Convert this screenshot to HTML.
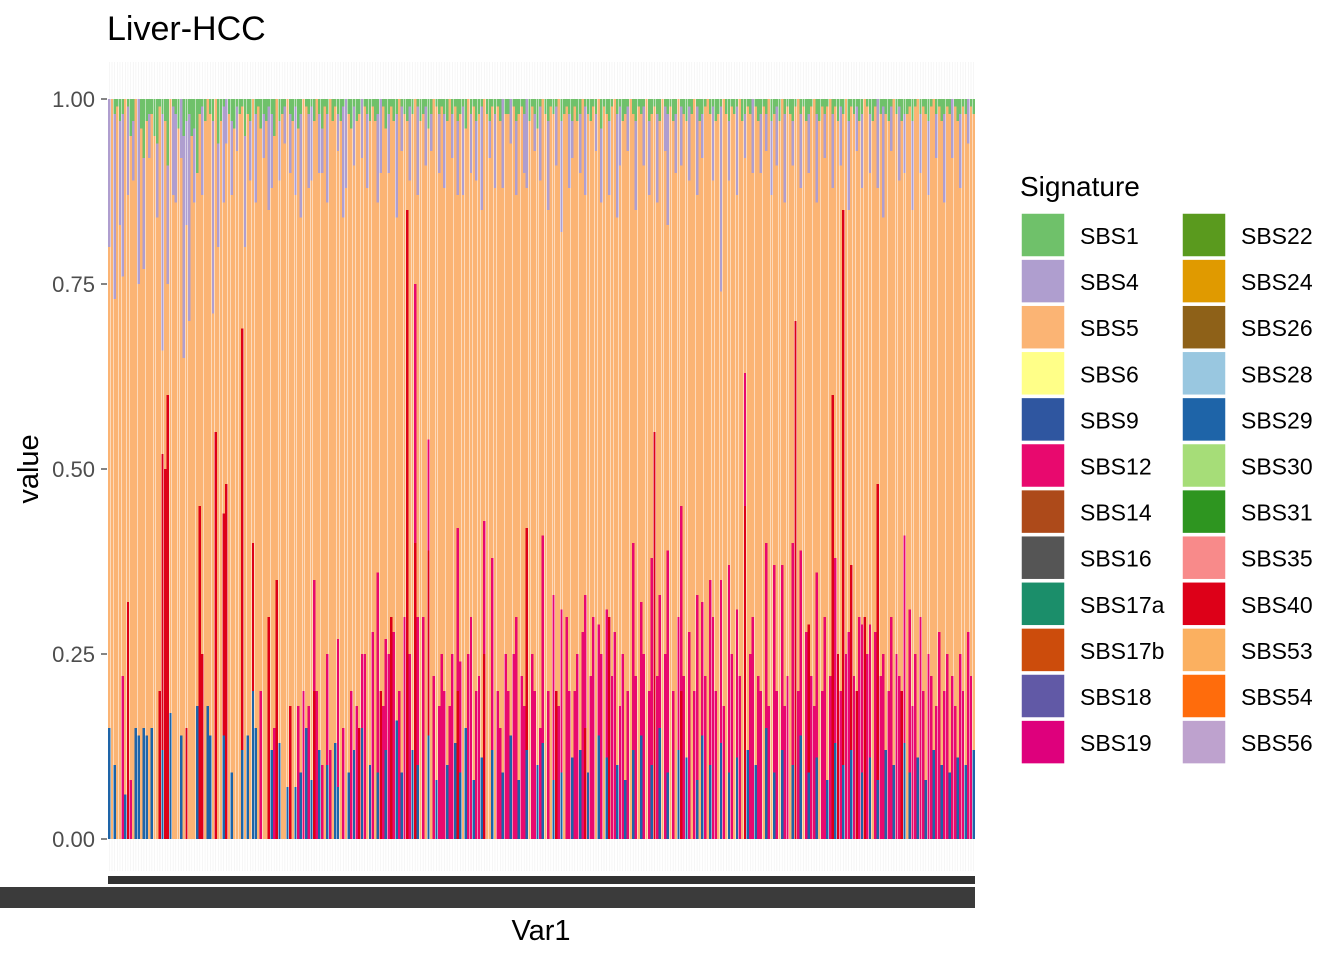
<!DOCTYPE html>
<html><head><meta charset="utf-8">
<style>
html,body{margin:0;padding:0;background:#fff;}
svg{display:block;font-family:"Liberation Sans",Arial,sans-serif;}
</style></head>
<body>
<svg id="chart" width="1344" height="960" viewBox="0 0 1344 960" xmlns="http://www.w3.org/2000/svg">
  <rect width="1344" height="960" fill="#fff"/>
  <text x="107" y="40" font-size="34" fill="#000">Liver-HCC</text>
  <g id="grid"></g>
  <g id="bars" shape-rendering="crispEdges"></g>
  <g id="yaxis"></g>
  <rect x="108" y="876" width="867" height="8" fill="#333"/>
  <rect x="0" y="887" width="975" height="21" fill="#3b3b3b"/>
  <text x="541" y="940" font-size="29" text-anchor="middle" fill="#000">Var1</text>
  <text transform="translate(38,469) rotate(-90)" font-size="29" text-anchor="middle" fill="#000">value</text>
  <g id="legend">
    <text x="1020" y="196" font-size="28" fill="#000">Signature</text>
  </g>
</svg>
<script>
const sbs29 = [
15,0,10,0,0,0,6,0,0,0,15,14,0,15,14,0,15,0,0,0,12,0,0,17,0,
0,0,14,0,0,0,0,0,18,0,0,0,18,14,0,0,0,0,14,0,0,9,0,0,0,
12,0,14,0,20,15,0,0,0,0,0,12,0,0,13,0,0,7,0,0,7,0,9,0,15,
0,8,0,0,12,0,0,10,0,0,13,7,0,0,0,9,0,12,0,0,15,0,0,10,0,
0,9,0,0,12,0,0,0,16,0,9,0,0,0,12,0,10,0,0,0,14,0,0,8,0,
0,0,10,0,0,13,0,9,0,15,0,0,8,0,0,11,0,0,0,12,0,0,0,9,0,
0,14,0,0,8,0,0,12,0,0,0,10,0,13,0,0,0,8,0,0,9,0,0,0,11,
0,0,12,0,0,9,0,0,0,14,0,0,11,0,0,0,10,0,0,8,0,0,12,0,0,
14,0,0,0,10,0,0,15,0,0,9,0,0,0,12,0,0,11,0,0,0,8,0,14,0,
0,10,0,0,0,13,0,0,9,0,0,11,0,0,0,12,0,0,10,0,0,0,15,0,0,
9,0,0,12,0,0,0,10,0,0,14,0,0,9,0,0,11,0,0,0,8,0,0,13,0,
0,10,0,0,12,0,0,0,9,0,0,11,0,0,8,0,0,12,0,0,10,0,0,0,13,
0,9,0,0,11,0,0,8,0,0,12,0,0,10,0,0,9,0,0,11,0,0,10,0,0,12];
const sbs40 = [
0,0,0,0,0,0,0,32,0,0,0,0,0,0,0,0,0,0,0,20,40,50,60,0,0,
0,0,0,0,15,0,0,0,0,45,25,0,0,0,0,55,0,0,30,48,0,0,0,0,0,
57,0,0,0,20,0,0,0,0,0,30,0,0,35,0,0,0,0,18,0,0,0,0,0,0,
0,0,20,0,0,0,0,0,0,0,0,0,0,0,0,0,0,0,0,15,0,0,0,0,0,
0,0,20,0,0,0,30,0,0,0,0,0,85,0,0,40,0,0,0,0,25,0,0,0,0,
0,0,0,0,0,0,20,0,0,0,0,0,0,0,0,0,25,0,0,0,0,0,0,0,0,
0,0,0,0,0,0,0,30,0,0,0,0,0,0,0,0,0,0,20,0,0,0,0,0,0,
0,0,0,0,15,0,0,0,0,0,0,0,0,30,0,0,0,0,0,0,0,0,0,0,0,
0,0,0,0,0,55,0,0,0,0,0,0,0,0,0,20,0,0,0,0,0,0,0,0,0,
0,0,0,0,0,0,0,0,0,0,0,0,0,0,45,0,0,0,0,0,0,0,0,0,0,
0,0,0,0,0,0,0,0,70,0,0,0,0,20,0,0,0,0,0,0,0,0,60,0,25,
0,75,0,0,25,0,20,0,0,30,0,0,0,0,40,0,0,0,0,0,0,0,0,20,0,
0,0,0,0,0,0,0,0,0,0,0,0,0,0,0,0,0,0,0,0,0,0,0,0,0,0];
const sbs12 = [
0,0,0,0,0,22,0,0,8,0,0,0,0,0,0,0,0,0,0,0,0,0,0,0,0,
0,0,0,0,0,0,0,0,0,0,0,0,0,0,0,0,0,0,0,0,0,0,0,0,0,
0,0,0,0,0,0,0,20,0,0,0,0,15,0,0,0,0,0,0,0,0,18,0,20,0,
18,0,15,20,0,10,0,15,12,0,0,20,0,15,0,0,20,0,18,0,10,25,0,0,28,
0,27,0,18,15,25,0,28,0,20,0,30,0,25,0,35,20,0,30,0,15,0,22,0,18,
25,20,0,18,25,0,22,15,0,0,25,30,0,20,22,0,18,0,0,26,0,20,15,0,25,
20,0,25,30,0,22,18,0,0,25,20,0,15,28,0,20,0,25,0,18,22,0,30,20,0,
20,25,0,28,18,0,22,30,0,15,25,0,20,0,22,28,0,18,25,0,20,0,28,22,0,
18,25,0,20,28,0,22,18,0,25,30,0,20,0,18,25,22,0,28,0,20,25,0,18,22,
0,25,30,20,0,22,18,0,28,25,0,20,22,0,18,0,25,30,0,22,20,0,25,18,0,
28,20,0,25,18,22,0,30,0,20,25,0,28,0,22,18,25,0,20,30,0,22,0,25,0,
20,0,25,28,0,22,0,30,20,0,25,18,0,28,0,22,25,0,20,30,0,25,22,0,28,
0,22,18,25,0,30,20,0,25,22,0,18,28,0,20,25,0,22,18,0,25,20,0,28,22,0];
const sbs4 = [
20,0,25,0,14,22,0,12,0,8,0,25,0,15,0,6,0,0,10,0,32,0,16,0,12,
12,0,8,30,14,28,0,10,0,0,12,0,0,0,26,0,14,0,13,6,0,10,0,6,0,
0,15,0,8,0,12,0,0,6,0,14,10,0,0,8,0,5,0,8,0,12,0,14,0,0,
10,10,0,0,8,6,0,12,0,0,0,5,0,15,12,0,0,8,0,0,8,0,10,0,0,
0,12,10,0,0,8,0,0,14,0,6,0,0,10,0,0,12,0,0,8,0,5,0,0,8,
0,10,0,0,6,0,10,0,12,0,0,8,0,8,0,14,0,0,5,0,10,0,0,12,0,
0,6,0,10,0,0,8,12,0,0,5,0,10,0,0,12,0,0,8,0,15,0,0,10,5,
0,0,8,0,12,0,0,0,5,0,10,0,0,10,0,0,14,8,0,0,6,0,0,12,0,
0,8,0,10,0,0,12,0,0,6,15,0,0,8,0,8,0,0,10,0,0,12,0,6,0,
0,0,10,0,0,25,0,0,8,0,0,12,0,0,6,0,0,10,0,0,8,0,5,0,10,
0,8,0,0,12,0,0,6,0,0,10,0,0,8,0,0,12,0,0,6,0,0,10,0,0,
8,0,0,12,0,0,6,0,10,0,0,8,0,0,12,0,15,0,0,6,0,0,10,0,8,
0,0,12,0,0,8,0,0,10,0,0,6,0,0,12,0,0,8,0,0,10,0,0,6,0,0];
const sbs1 = [
0,0,2,1,3,2,0,1,5,3,0,0,4,8,3,2,2,5,6,1,2,3,9,0,1,
2,4,0,5,3,2,5,4,10,2,1,3,0,2,3,0,6,3,1,0,2,3,4,1,2,
1,5,2,3,0,2,1,4,2,3,1,2,5,0,3,2,1,0,2,3,1,4,2,0,1,
2,1,3,0,2,4,1,2,0,3,1,2,3,1,0,2,4,1,3,2,0,1,2,3,1,
3,2,0,1,4,2,1,3,2,0,1,2,3,1,2,0,1,3,2,1,4,2,0,1,2,
1,2,3,0,2,1,3,2,1,4,0,2,1,3,2,1,0,2,3,1,2,1,3,0,2,
2,0,1,3,2,1,2,0,3,1,2,4,1,0,2,3,1,2,1,0,3,2,1,2,3,
1,3,2,0,1,2,3,1,2,0,4,1,2,3,1,0,2,1,3,2,1,0,2,3,1,
2,1,0,3,2,1,2,3,0,1,2,1,3,2,0,1,2,3,1,2,0,1,3,2,1,
0,2,1,3,2,1,0,2,3,1,2,1,0,3,2,1,2,0,1,3,2,1,2,0,3,
2,1,3,0,2,1,2,3,1,0,2,1,3,2,1,0,2,3,1,2,1,0,2,1,3,
1,2,0,3,1,2,1,3,2,0,1,2,3,1,0,2,1,2,3,1,0,2,1,3,2,
2,1,3,1,0,2,1,2,3,1,0,2,1,3,2,1,2,0,1,3,2,1,2,0,1,2];
const yTicks = [0, 0.25, 0.5, 0.75, 1];
const yTickLabels = ["0.00","0.25","0.50","0.75","1.00"];
const legendNames = ["SBS1","SBS4","SBS5","SBS6","SBS9","SBS12","SBS14","SBS16","SBS17a","SBS17b","SBS18","SBS19",
  "SBS22","SBS24","SBS26","SBS28","SBS29","SBS30","SBS31","SBS35","SBS40","SBS53","SBS54","SBS56"];
const legendColors = ["#6FC16A","#AF9ECF","#FBB474","#FFFF88","#2F56A0","#E8096E","#AD4A1A","#555555","#1B8E6A","#CC4C0C","#6159A6","#DE007C",
  "#5A9A1E","#E09A00","#8E6118","#99C7E0","#1E64A8","#A6DD78","#2E9520","#F88A8A","#DD0018","#FBB060","#FF6C0C","#BEA2CE"];

const NS = "http://www.w3.org/2000/svg";
const N = sbs29.length;
const X0 = 108, X1 = 975, Y0 = 839, Y1 = 99;
const band = (X1 - X0) / N;
const xScale = i => X0 + i * band;
const yScale = v => Y0 - v * (Y0 - Y1);
const colorOf = name => legendColors[legendNames.indexOf(name)];

const grid = document.getElementById('grid');
for (let i = 0; i < N; i++) {
  const l = document.createElementNS(NS, 'line');
  const cx = xScale(i) + band / 2;
  l.setAttribute('x1', cx); l.setAttribute('x2', cx);
  l.setAttribute('y1', 62); l.setAttribute('y2', 871);
  l.setAttribute('stroke', '#f0f0f0'); l.setAttribute('stroke-width', '0.6');
  
  
  grid.appendChild(l);
}

const bars = document.getElementById('bars');
for (let i = 0; i < N; i++) {
  const v29 = sbs29[i] || 0, v40 = sbs40[i] || 0, v12 = sbs12[i] || 0, v4 = sbs4[i] || 0, v1 = sbs1[i] || 0;
  const v5 = Math.max(0, 100 - (v29 + v40 + v12 + v4 + v1));
  const stack = [["SBS29", v29], ["SBS40", v40], ["SBS12", v12], ["SBS5", v5], ["SBS4", v4], ["SBS1", v1]];
  let cum = 0;
  const w = band * 0.9;
  const x = xScale(i) + band * 0.05;
  for (const [name, val] of stack) {
    if (val <= 0) continue;
    const r = document.createElementNS(NS, 'rect');
    const top = Math.min(100, cum + val);
    r.setAttribute('x', x.toFixed(2));
    r.setAttribute('width', w.toFixed(2));
    r.setAttribute('y', yScale(top / 100).toFixed(2));
    r.setAttribute('height', (yScale(cum / 100) - yScale(top / 100)).toFixed(2));
    r.setAttribute('fill', colorOf(name));
    
    
    bars.appendChild(r);
    cum = top;
  }
}

const yaxis = document.getElementById('yaxis');
yTicks.forEach((t, k) => {
  const y = yScale(t);
  const tick = document.createElementNS(NS, 'line');
  tick.setAttribute('x1', 101); tick.setAttribute('x2', 107);
  tick.setAttribute('y1', y); tick.setAttribute('y2', y);
  tick.setAttribute('stroke', '#333'); tick.setAttribute('stroke-width', '1.2');
  
  
  yaxis.appendChild(tick);
  const tx = document.createElementNS(NS, 'text');
  tx.setAttribute('x', 95); tx.setAttribute('y', y + 8);
  tx.setAttribute('text-anchor', 'end'); tx.setAttribute('font-size', '22');
  tx.setAttribute('fill', '#4d4d4d');
  tx.textContent = yTickLabels[k];
  
  
  yaxis.appendChild(tx);
});

const legend = document.getElementById('legend');
legendNames.forEach((name, k) => {
  const col = Math.floor(k / 12), row = k % 12;
  const kx = 1021 + col * 161, ky = 213 + row * 46.1;
  const g = document.createElementNS(NS, 'g');
  
  
  const r = document.createElementNS(NS, 'rect');
  r.setAttribute('x', kx); r.setAttribute('y', ky);
  r.setAttribute('width', 44); r.setAttribute('height', 44);
  r.setAttribute('fill', legendColors[k]);
  r.setAttribute('stroke', '#fff'); r.setAttribute('stroke-width', '1.5');
  
  
  g.appendChild(r);
  const t = document.createElementNS(NS, 'text');
  t.setAttribute('x', kx + 59); t.setAttribute('y', ky + 31);
  t.setAttribute('font-size', '23'); t.setAttribute('fill', '#000');
  t.textContent = name;
  
  
  g.appendChild(t);
  legend.appendChild(g);
});
</script>
</body></html>
